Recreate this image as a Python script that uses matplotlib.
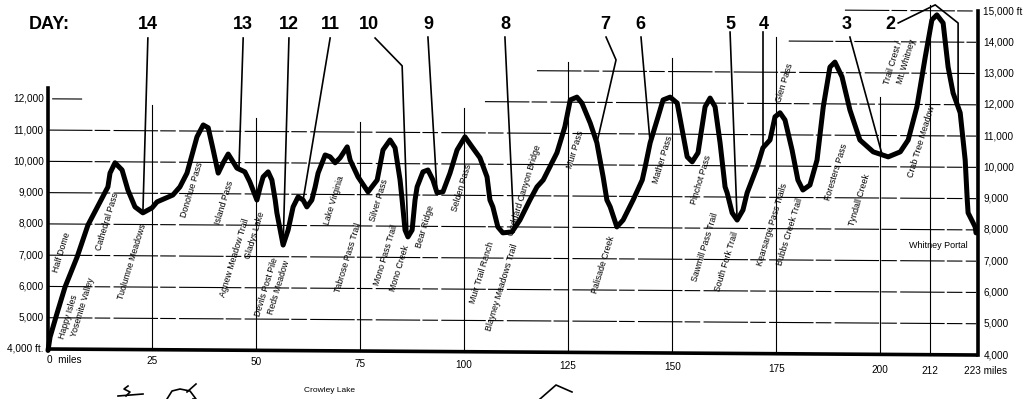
import matplotlib
matplotlib.use("Agg")
import matplotlib.pyplot as plt
import numpy as np

plt.rcParams['font.family'] = ['Liberation Sans', 'DejaVu Sans']

# trail profile (miles, feet)
miles = [0, 0.5, 2.2, 4.1, 7.0, 9.6, 12.5, 14.4, 14.9, 16.1, 17.8, 19.2, 20.9, 22.8, 25.0,
         26.2, 30.0, 31.7, 33.4, 35.8, 37.3, 38.5, 39.7, 40.9, 42.1, 43.3, 44.2, 45.4, 47.3,
         48.5, 50.2, 51.0, 51.7, 52.9, 53.8, 54.6, 55.0, 56.5, 57.7, 58.9, 60.1, 61.3, 62.2,
         63.4, 64.2, 64.9, 66.6, 67.8, 69.0, 70.2, 71.9, 72.6, 74.5, 76.9, 79.1, 80.5, 82.2,
         83.4, 84.6, 85.1, 85.8, 86.5, 87.5, 88.2, 88.7, 90.1, 91.3, 92.5, 93.5, 94.9, 96.6,
         98.3, 100.2, 101.9, 103.8, 105.5, 106.2, 106.9, 108.1, 109.3, 111.5, 113.4, 115.8,
         117.5, 119.0, 122.3, 124.2, 125.5, 127.1, 128.3, 130.3, 131.9, 133.4, 134.3, 135.1,
         136.7, 138.2, 140.6, 142.8, 143.5, 144.7, 146.6, 147.8, 149.5, 151.2, 152.4, 153.6,
         154.8, 156.2, 157.9, 159.1, 160.3, 161.5, 162.7, 163.2, 164.4, 165.6, 167.0, 168.0,
         170.4, 171.8, 173.5, 174.7, 175.9, 177.1, 178.8, 180.2, 181.4, 183.1, 184.8, 186.3,
         187.9, 189.1, 190.8, 192.7, 195.1, 198.3, 201.9, 204.8, 206.7, 208.8, 210.8, 212.4,
         213.6, 215.1, 216.3, 217.5, 219.2, 220.4, 220.9, 221.1, 222.8, 223.0]
elev = [4050, 4480, 5250, 6080, 7040, 8060, 8800, 9280, 9720, 10050, 9820, 9180, 8640, 8450, 8610,
        8800, 9020, 9280, 9720, 10880, 11260, 11170, 10460, 9720, 10050, 10330, 10140, 9880, 9760,
        9440, 8860, 9280, 9600, 9760, 9500, 8860, 8450, 7420, 7900, 8640, 8960, 8860, 8640,
        8860, 9280, 9720, 10300, 10240, 10050, 10210, 10560, 10140, 9600, 9120, 9500, 10460, 10780,
        10530, 9500, 8860, 7900, 7680, 7900, 8860, 9280, 9760, 9820, 9500, 9090, 9120, 9720,
        10460, 10880, 10560, 10210, 9600, 8860, 8640, 8000, 7810, 7840, 8220, 8860,
        9280, 9500, 10370, 11200, 12060, 12150, 11960, 11320, 10690, 9600, 8860, 8640,
        8000, 8220, 8860, 9500, 9920, 10690, 11520, 12060, 12150, 11960, 11100, 10240,
        10080, 10370, 11840, 12120, 11840, 10690, 9280, 9090, 8450, 8220, 8540, 9090,
        9920, 10530, 10780, 11520, 11650, 11420, 10460, 9500, 9180, 9340, 10140, 11840,
        13110, 13270, 12800, 11740, 10780, 10400, 10240, 10400, 10780, 11840, 13430, 14620,
        14780, 14520, 13110, 12280, 11650, 10140, 8860, 8450, 8000, 7810]

# day markers: number, label mile, leader path
day_nums = ['14', '13', '12', '11', '10', '9', '8', '7', '6', '5', '4', '3', '2']
day_text_miles = [24.0, 46.9, 57.9, 67.8, 77.1, 91.3, 109.8, 133.9, 142.3, 163.9, 172.1, 192.0, 202.4]
day_paths = [
    [(24.0, 14040), (22.8, 8450)],
    [(46.9, 14040), (45.9, 9920)],
    [(57.9, 14040), (56.5, 7420)],
    [(67.8, 14040), (61.3, 8860)],
    [(78.6, 14040), (85.1, 13150), (86.5, 7680)],
    [(91.3, 14070), (93.5, 9090)],
    [(109.8, 14070), (112.0, 7840)],
    [(134.1, 14070), (136.5, 13340), (131.9, 10690)],
    [(142.5, 14070), (144.7, 10690)],
    [(163.9, 14230), (165.6, 8220)],
    [(171.8, 14230), (171.8, 10530)],
    [(192.7, 14070), (200.4, 10330)],
    [(204.3, 14520), (213.2, 15100), (218.7, 14520), (218.7, 11740)],
]

# place names (label, mile, elevation of label centre)
places = [
    ('Half Dome', 3.4, 7170), ('Happy Isles', 4.8, 5120), ('Yosemite Valley', 8.4, 5440),
    ('Cathedral Pass', 14.2, 8160), ('Tuolumne Meadows', 20.2, 6880), ('Donohue Pass', 34.6, 9180),
    ('Island Pass', 42.3, 8770), ('Agnew Meadow Trail', 44.9, 7010), ('Gladys Lake', 49.7, 7740),
    ('Devils Post Pile', 52.6, 6080), ('Reds Meadow', 55.5, 6050), ('Lake Virginia', 68.7, 8860),
    ('Tabrose Pass Trail', 72.1, 7010), ('Silver Pass', 79.5, 8860), ('Mono Pass Trail', 81.2, 7100),
    ('Mono Creek', 84.4, 6690), ('Bear Ridge', 90.6, 8000), ('Selden Pass', 99.5, 9240),
    ('Muir Trail Ranch', 104.3, 6530), ('Blayney Meadows Trail', 109.1, 6050),
    ('Goddard Canyon Bridge', 114.6, 9180), ('Muir Pass', 126.7, 10460), ('Palisade Creek', 133.4, 6780),
    ('Mather Pass', 147.8, 10140), ('Pinchot Pass', 156.9, 9500), ('Sawmill Pass Trail', 157.9, 7360),
    ('South Fork Trail', 163.2, 6880), ('Glen Pass', 177.1, 12600), ('Kearsarge Pass Trails', 174.0, 8060),
    ('Bubbs Creek Trail', 178.3, 7840), ('Foresters Pass', 189.4, 9760), ('Tyndall Creek', 195.1, 8860),
    ('Trail Crest /', 203.1, 13240), ('Mt. Whitney', 206.2, 13270), ('Crab Tree Meadow', 209.8, 10720),
]

left_ticks = [4000, 5000, 6000, 7000, 8000, 9000, 10000, 11000, 12000]
right_ticks = [4000, 5000, 6000, 7000, 8000, 9000, 10000, 11000, 12000, 13000, 14000, 15000]
mile_ticks = [0, 25, 50, 75, 100, 125, 150, 175, 200, 212, 223]
mile_labels = ['0  miles', '25', '50', '75', '100', '125', '150', '175', '200', '212', '223 miles']

# horizontal grid lines and their mile extents
grid_rows = [5000, 6000, 7000, 8000, 9000, 10000, 11000, 12000, 12000, 13000, 14000, 15000]
grid_from = [0, 0, 0, 0, 0, 0, 0, 1.0, 105, 117.5, 178, 191.5]
grid_to = [223, 223, 223, 223, 223, 223, 223, 8.2, 223, 223, 223, 223]
vgrid_miles = [25, 50, 75, 100, 125, 150, 175, 200, 212]
vgrid_top = [11900, 11480, 11360, 11800, 13270, 13400, 14070, 12150, 15100]


def skew(m):
    # the scanned page is slightly rotated
    return 96 - 192 * np.asarray(m) / 223


fig = plt.figure(figsize=(10.24, 3.99), dpi=100)
ax = fig.add_axes([48 / 1024, 1 - 352 / 399, 928 / 1024, 344 / 399])
ax.set_xlim(0, 223)
ax.set_ylim(4000, 15000)
ax.axis('off')

for v, a, b in zip(grid_rows, grid_from, grid_to):
    xs = np.array([a, b])
    ax.plot(xs, v + skew(xs), color='black', lw=0.8, ls=(0, (40, 2, 14, 3)), clip_on=False)

for m, top in zip(vgrid_miles, vgrid_top):
    ax.plot([m, m], [4000 + skew(m), top], color='black', lw=0.8, clip_on=False)

# frame
ax.plot([0, 223], [4000 + skew(0), 4000 + skew(223)], color='black', lw=2.6, clip_on=False)
ax.plot([0, 0], [4000 + skew(0), 12440], color='black', lw=2.6, clip_on=False)
ax.plot([223.5, 223.5], [4000 + skew(223), 15000 + skew(223)], color='black', lw=2.6, clip_on=False)

# profile
ax.plot(miles, elev, color='black', lw=3.6, solid_joinstyle='round', solid_capstyle='round',
        clip_on=False, zorder=5)

# day markers
ax.text(0.2, 14460, 'DAY:', fontsize=13, fontweight='bold', ha='center', va='center')
for num, m, path in zip(day_nums, day_text_miles, day_paths):
    ax.text(m, 14460, num, fontsize=13, fontweight='bold', ha='center', va='center')
    px, py = zip(*path)
    ax.plot(px, py, color='black', lw=1.2, clip_on=False, zorder=4)

for name, m, e in places:
    ax.text(m, e, name, fontsize=6.3, rotation=73, ha='center', va='center',
            rotation_mode='anchor', zorder=6)
ax.text(213.9, 7420, 'Whitney Portal', fontsize=6.5, ha='center', va='center')

# axis labels
for v in left_ticks:
    lab = f'{v:,}' + (' ft.' if v == 4000 else '')
    ax.text(-1.0, v + skew(0), lab, fontsize=7.2, ha='right', va='center')
for v in right_ticks:
    lab = f'{v:,}' + (' ft' if v == 15000 else '')
    ax.text(224.8, v + skew(223), lab, fontsize=7.2, ha='left', va='center')
for m, lab in zip(mile_ticks, mile_labels):
    y = 3744 - m * 354 / 223
    if m == 0:
        ax.text(-0.3, y, lab, fontsize=7.2, ha='left', va='center')
    elif m == 223:
        ax.text(225.4, y, lab, fontsize=7.2, ha='center', va='center')
    else:
        ax.text(m, y, lab, fontsize=7.2, ha='center', va='center')

fig.text(330 / 1024, 1 - 390 / 399, 'Crowley Lake', fontsize=6, ha='center', va='center')

# pen doodles at the bottom of the page
W, H = 1024, 399
def doodle(xs, ys, lw=1.2):
    fig.add_artist(plt.Line2D(np.array(xs) / W, 1 - np.array(ys) / H, color='black', lw=lw))
doodle([128, 124, 130, 126], [386, 389, 392, 396])
doodle([118, 143], [396, 394])
doodle([167, 172, 180, 190, 196, 193], [399, 391, 389, 391, 399, 399])
doodle([187, 196], [392, 384])
doodle([540, 556, 572], [399, 385, 392])

fig.savefig('out.png', dpi=100, facecolor='white')
